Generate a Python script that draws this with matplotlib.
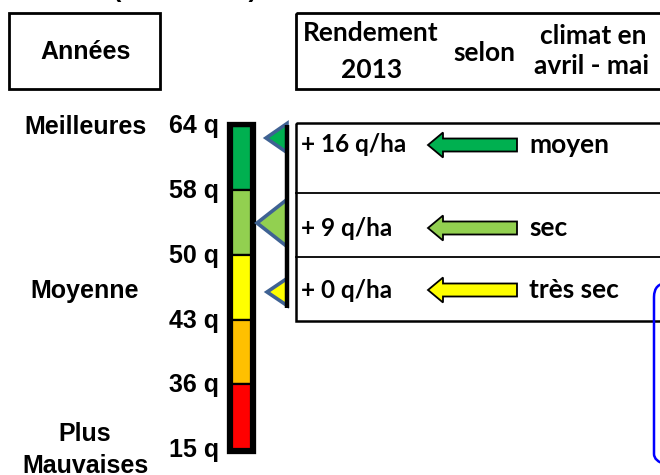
import numpy as np
import matplotlib.pyplot as plt
from matplotlib.patches import Rectangle, Polygon, FancyArrow, FancyBboxPatch

# scale of yields (q/ha), from best to worst years
levels = ["64 q", "58 q", "50 q", "43 q", "36 q", "15 q"]
bar_colors = ["#00B050", "#92D050", "#FFFF00", "#FFC000", "#FF0000"]
year_labels = ["Meilleures", "Moyenne", "Plus\nMauvaises"]

# 2013 yield gain according to April-May climate
gains = ["+ 16 q/ha", "+ 9 q/ha", "+ 0 q/ha"]
climats = ["moyen", "sec", "très sec"]
row_colors = ["#00B050", "#92D050", "#FFFF00"]

ARIAL = "Liberation Sans"
CALIBRI = "Lato"

fig = plt.figure(figsize=(6.6, 4.75), dpi=100)
ax = fig.add_axes([0, 0, 1, 1])
ax.set_xlim(0, 660)
ax.set_ylim(475, 0)
ax.axis("off")

# clipped title line at the very top
ax.text(185, -3, "(rendement)", ha="center", va="baseline", fontsize=18,
        fontweight="bold", family=ARIAL)

# header boxes
ax.add_patch(Rectangle((8.5, 12.5), 151, 76, fill=False, lw=2, ec="black"))
ax.text(86, 52, "Années", ha="center", va="center", fontsize=18,
        fontweight="bold", family=ARIAL)
ax.add_patch(Rectangle((296, 12.5), 400, 76, fill=False, lw=2, ec="black"))
hdr = dict(fontsize=19, fontweight="bold", family=CALIBRI, ha="center", va="center")
ax.text(371, 33, "Rendement", **hdr)
ax.text(372, 70, "2013", **hdr)
ax.text(484, 53, "selon", **hdr)
ax.text(593, 36, "climat en", **hdr)
ax.text(592, 66, "avril - mai", **hdr)

# colour scale
bar_top, step = 125.5, 64.7
bottoms = bar_top + step * np.arange(len(bar_colors))
ax.bar(np.full(len(bar_colors), 241), np.full(len(bar_colors), step), bottom=bottoms,
       width=19, color=bar_colors, edgecolor="black", lw=1.6, align="center")
ax.add_patch(Rectangle((229, bar_top - 1.5), 24, step * len(bar_colors) + 3,
                       fill=False, lw=3.8, ec="black", zorder=3))
for i, lab in enumerate(levels):
    ax.text(219, bar_top + i * step + 1, lab, ha="right", va="center",
            fontsize=18, fontweight="bold", family=ARIAL)

lab_y = [bar_top + 1.5, bar_top + 2.5 * step + 4, bar_top + 5 * step + 1]
for y, lab in zip(lab_y, year_labels):
    ax.text(85, y, lab, ha="center", va="center", fontsize=18,
            fontweight="bold", family=ARIAL, linespacing=1.4)

# rows
row_top = [123, 193, 257]
text_y = [145, 228, 290]
ax.add_patch(Rectangle((296, 123), 400, 198, fill=False, lw=1.8, ec="black"))
for t in row_top[1:]:
    ax.plot([296, 700], [t, t], color="black", lw=1.3)

ax.plot([287, 287], [125, 308], color="black", lw=3.2, solid_capstyle="butt", zorder=4)

tri = [(138, 21, 14.5), (223, 30, 23.5), (292, 20, 13.5)]
for (ty, depth, half), c in zip(tri, row_colors):
    ax.add_patch(Polygon([[287, ty - half], [287 - depth, ty], [287, ty + half]],
                         closed=True, fc=c, ec="#3F6293", lw=2.6, joinstyle="miter", zorder=3))

for y, g, cl, c in zip(text_y, gains, climats, row_colors):
    ax.text(301, y, g, ha="left", va="center", fontsize=17.5, fontweight="bold", family=CALIBRI)
    ax.add_patch(FancyArrow(517, y, -89, 0, width=13, head_width=25, head_length=15,
                            length_includes_head=True, fc=c, ec="black", lw=1.3))
    ax.text(529, y, cl, ha="left", va="center", fontsize=19, fontweight="bold", family=CALIBRI)

# note box on the right edge
ax.add_patch(FancyBboxPatch((654, 283), 60, 185, boxstyle="round,pad=0,rounding_size=14",
                            fill=False, ec="#0000FF", lw=1.8, clip_on=True))

fig.savefig("out.png", dpi=100)
